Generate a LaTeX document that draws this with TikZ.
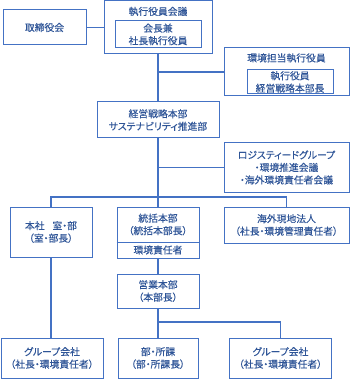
\documentclass[tikz,border=0pt]{standalone}
\usepackage{fontspec}
\setmainfont{Noto Sans CJK JP}[RawFeature=+palt, FakeBold=0.3]
\usepackage{xcolor}
\usepackage{tikz}
\definecolor{orgline}{HTML}{4472C4}
\definecolor{orgtext}{HTML}{2F5597}
\tikzset{
  box/.style={rectangle, draw=orgline, line width=1pt, inner sep=0pt, align=center, text=orgtext},
  ttl/.style={inner sep=0pt, align=center, text=orgtext},
  link/.style={draw=orgline, line width=1.6pt}
}

\begin{document}
\begin{tikzpicture}[x=1pt, y=1pt, every node/.style={font=\fontsize{9.8}{12.5}\selectfont}]
  \useasboundingbox (0,0) rectangle (350,-379);
  % top
  \node[box, minimum width=83, minimum height=35] (board) at (44.5,-27.5) {取締役会};
  \node[box, minimum width=108, minimum height=53] (exec) at (158,-27.5) {};
  \node[ttl] (execttl) at (158,-11.5) {執行役員会議};
  \node[box, minimum width=86, minimum height=27] (chair) at (158,-34.5) {会長兼\\社長執行役員};
  \node[box, minimum width=125, minimum height=48] (env) at (286.5,-72) {};
  \node[ttl] (envttl) at (286.5,-58) {環境担当執行役員};
  \node[box, minimum width=86, minimum height=24] (envofc) at (290,-82) {執行役員\\経営戦略本部長};
  \node[box, minimum width=122, minimum height=36] (strat) at (158,-120) {経営戦略本部\\サステナビリティ推進部};
  \node[box, minimum width=125, minimum height=49] (logi) at (286.5,-167.5) {ロジスティードグループ\\・環境推進会議\\・海外環境責任者会議};
  % middle row
  \node[box, minimum width=82, minimum height=50] (hq) at (51,-232) {本社\hspace{0.8em}室・部\\（室・部長）};
  \node[box, minimum width=82, minimum height=51] (div) at (158,-232.5) {};
  \node[ttl] (divttl) at (158,-224.5) {統括本部\\（統括本部長）};
  \node[ttl] (divenv) at (158,-250) {環境責任者};
  \node[box, minimum width=125, minimum height=36] (overseas) at (286.5,-225) {海外現地法人\\（社長・環境管理責任者）};
  \node[box, minimum width=82, minimum height=34] (sales) at (158,-291) {営業本部\\（本部長）};
  % bottom row
  \node[box, minimum width=102, minimum height=40] (grpL) at (52,-358) {グループ会社\\（社長・環境責任者）};
  \node[box, minimum width=80, minimum height=40] (dept) at (158,-358) {部・所課\\（部・所課長）};
  \node[box, minimum width=102, minimum height=40] (grpR) at (280.5,-358) {グループ会社\\（社長・環境責任者）};
  \coordinate (bus) at (158,-197);
  \coordinate (fork) at (158,-322);
  % links
  \draw[draw=orgline, line width=0.8pt] (div.west |- 0,-242) -- (div.east |- 0,-242);
  \draw[link] (board.east) -- (exec.west);
  \draw[link] (exec.south) -- (strat.north);
  \draw[link] (env.west -| exec.south) -- (env.west);
  \draw[link] (strat.south) -- (div.north);
  \draw[link] (logi.west -| strat.south) -- (logi.west);
  \draw[link] (hq.north) |- (bus) -| (overseas.north);
  \draw[link] (hq.south) -- (hq.south |- grpL.north);
  \draw[link] (div.south) -- (sales.north);
  \draw[link] (sales.south) -- (dept.north);
  \draw[link] (fork) -| (grpR.north);
\end{tikzpicture}
\end{document}
